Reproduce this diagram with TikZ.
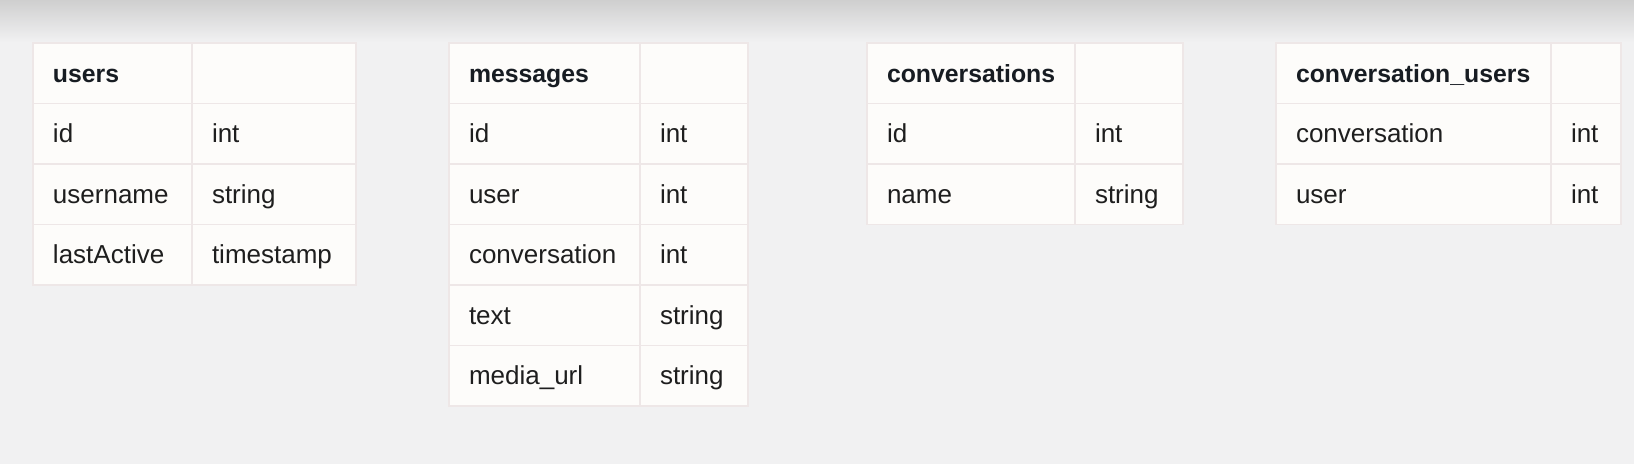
\documentclass[tikz,border=0pt]{standalone}
\usepackage{fontspec}
\setmainfont{Liberation Sans}
\usetikzlibrary{positioning, backgrounds}
\definecolor{pageGray}{HTML}{F1F1F2}
\definecolor{topGray}{HTML}{CFCFCF}
\definecolor{cellWhite}{HTML}{FDFCFA}
\definecolor{cellLine}{HTML}{EEE7E7}
\definecolor{headInk}{HTML}{171C22}
\definecolor{bodyInk}{HTML}{1E1E1E}
\tikzstyle{cell} =[draw=cellLine, fill=cellWhite, line width=0.75pt, outer sep=0pt, minimum height=30.25pt, inner xsep=10pt, inner ysep=0pt, text height=11pt, text depth=2pt, align=left, text=bodyInk, font=\fontsize{13pt}{15pt}\selectfont]
\tikzstyle{headcell} =[cell, text=headInk, font=\fontsize{12.4pt}{15pt}\selectfont\bfseries]

\begin{document}
\begin{tikzpicture}[x=0.5pt, y=-0.5pt]
\useasboundingbox (0,0) rectangle (1634,464);
\fill[pageGray] (0,0) rectangle (1634,464);
\fill[top color=topGray, bottom color=pageGray] (0,0) rectangle (1634,42);

% users
\node (usersTitle) [headcell, text width=59.5pt, anchor=north west] at (33,43) {users};
\node (usersTitleType) [headcell, text width=62pt, right=0pt of usersTitle] {};
\node (usersId) [cell, text width=59.5pt, below=0pt of usersTitle] {id};
\node (usersIdType) [cell, text width=62pt, right=0pt of usersId] {int};
\node (usersName) [cell, text width=59.5pt, below=0pt of usersId] {username};
\node (usersNameType) [cell, text width=62pt, right=0pt of usersName] {string};
\node (usersActive) [cell, text width=59.5pt, below=0pt of usersName] {lastActive};
\node (usersActiveType) [cell, text width=62pt, right=0pt of usersActive] {timestamp};

% messages
\node (msgTitle) [headcell, text width=75.5pt, anchor=north west] at (449,43) {messages};
\node (msgTitleType) [headcell, text width=34pt, right=0pt of msgTitle] {};
\node (msgId) [cell, text width=75.5pt, below=0pt of msgTitle] {id};
\node (msgIdType) [cell, text width=34pt, right=0pt of msgId] {int};
\node (msgUser) [cell, text width=75.5pt, below=0pt of msgId] {user};
\node (msgUserType) [cell, text width=34pt, right=0pt of msgUser] {int};
\node (msgConv) [cell, text width=75.5pt, below=0pt of msgUser] {conversation};
\node (msgConvType) [cell, text width=34pt, right=0pt of msgConv] {int};
\node (msgText) [cell, text width=75.5pt, below=0pt of msgConv] {text};
\node (msgTextType) [cell, text width=34pt, right=0pt of msgText] {string};
\node (msgMedia) [cell, text width=75.5pt, below=0pt of msgText] {media\_url};
\node (msgMediaType) [cell, text width=34pt, right=0pt of msgMedia] {string};

% conversations
\node (convTitle) [headcell, text width=84pt, anchor=north west] at (867,43) {conversations};
\node (convTitleType) [headcell, text width=34pt, right=0pt of convTitle] {};
\node (convId) [cell, text width=84pt, below=0pt of convTitle] {id};
\node (convIdType) [cell, text width=34pt, right=0pt of convId] {int};
\node (convName) [cell, text width=84pt, below=0pt of convId] {name};
\node (convNameType) [cell, text width=34pt, right=0pt of convName] {string};

% conversation_users
\node (cuTitle) [headcell, text width=117.5pt, anchor=north west] at (1276,43) {conversation\_users};
\node (cuTitleType) [headcell, text width=15pt, right=0pt of cuTitle] {};
\node (cuConv) [cell, text width=117.5pt, below=0pt of cuTitle] {conversation};
\node (cuConvType) [cell, text width=15pt, right=0pt of cuConv] {int};
\node (cuUser) [cell, text width=117.5pt, below=0pt of cuConv] {user};
\node (cuUserType) [cell, text width=15pt, right=0pt of cuUser] {int};
\end{tikzpicture}
\end{document}
